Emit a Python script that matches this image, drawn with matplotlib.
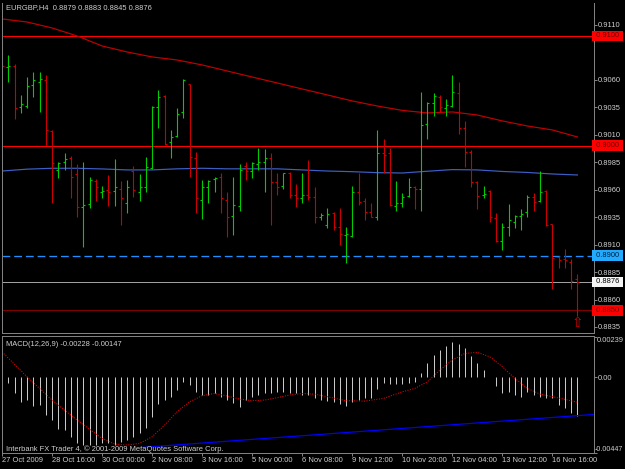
import numpy as np
import matplotlib.pyplot as plt
from matplotlib.transforms import blended_transform_factory

W, H = 625, 469

# EURGBP H4 bars
opens = [0.9096, 0.9072, 0.9073, 0.9035, 0.9036, 0.9055, 0.9058, 0.9060, 0.9013, 0.8978,
         0.8985, 0.8989, 0.8974, 0.8944, 0.8947, 0.8968, 0.8958, 0.8960, 0.8959, 0.8961,
         0.8948, 0.8977, 0.8958, 0.8962, 0.8980, 0.9035, 0.9045, 0.9003, 0.9009, 0.9031,
         0.9056, 0.8989, 0.8951, 0.8962, 0.8970, 0.8972, 0.8951, 0.8936, 0.8945, 0.8982,
         0.8977, 0.8983, 0.8985, 0.8989, 0.8967, 0.8963, 0.8975, 0.8955, 0.8952, 0.8955,
         0.8953, 0.8935, 0.8928, 0.8939, 0.8926, 0.8919, 0.8918, 0.8958, 0.8950, 0.8940,
         0.8935, 0.8993, 0.8993, 0.8945, 0.8948, 0.8954, 0.8962, 0.8961, 0.9020, 0.9039,
         0.9044, 0.9034, 0.9036, 0.9048, 0.9016, 0.8994, 0.8967, 0.8955, 0.8959, 0.8934,
         0.8913, 0.8926, 0.8931, 0.8936, 0.8940, 0.8953, 0.8950, 0.8959, 0.8929, 0.8899,
         0.8897, 0.8894, 0.8879]
highs = [0.9103, 0.9083, 0.9074, 0.9046, 0.9063, 0.9067, 0.9067, 0.9064, 0.9014, 0.8985,
         0.8993, 0.8991, 0.8983, 0.8985, 0.8972, 0.8970, 0.8963, 0.8973, 0.8988, 0.8968,
         0.8969, 0.8982, 0.8974, 0.8990, 0.9036, 0.9051, 0.9046, 0.9014, 0.9034, 0.9061,
         0.9056, 0.8994, 0.8969, 0.8969, 0.8972, 0.8975, 0.8958, 0.8972, 0.8983, 0.8985,
         0.8985, 0.8998, 0.8997, 0.8993, 0.8975, 0.8975, 0.8976, 0.8965, 0.8975, 0.8987,
         0.8962, 0.8939, 0.8943, 0.8940, 0.8943, 0.8926, 0.8963, 0.8975, 0.8952, 0.8948,
         0.9014, 0.9006, 0.8998, 0.8968, 0.8957, 0.8971, 0.8963, 0.9049, 0.9040, 0.9048,
         0.9046, 0.9043, 0.9064, 0.9058, 0.9023, 0.8996, 0.8968, 0.8963, 0.8960, 0.8939,
         0.8930, 0.8947, 0.8937, 0.8942, 0.8955, 0.8957, 0.8977, 0.8960, 0.8929, 0.8900,
         0.8906, 0.8897, 0.8883]
lows = [0.9051, 0.9058, 0.9024, 0.9030, 0.9034, 0.9044, 0.9031, 0.9001, 0.8948, 0.8971,
        0.8978, 0.8952, 0.8935, 0.8908, 0.8943, 0.8950, 0.8952, 0.8945, 0.8945, 0.8928,
        0.8939, 0.8953, 0.8950, 0.8958, 0.8979, 0.9016, 0.9001, 0.8989, 0.9008, 0.9025,
        0.8972, 0.8939, 0.8933, 0.8948, 0.8958, 0.8939, 0.8917, 0.8919, 0.8941, 0.8969,
        0.8971, 0.8978, 0.8958, 0.8928, 0.8955, 0.8961, 0.8952, 0.8944, 0.8948, 0.8951,
        0.8930, 0.8932, 0.8925, 0.8923, 0.8910, 0.8893, 0.8917, 0.8946, 0.8932, 0.8935,
        0.8932, 0.8975, 0.8945, 0.8941, 0.8944, 0.8953, 0.8942, 0.8941, 0.9006, 0.9027,
        0.9031, 0.9027, 0.9035, 0.9011, 0.8981, 0.8962, 0.8942, 0.8952, 0.8931, 0.8912,
        0.8905, 0.8918, 0.8925, 0.8923, 0.8935, 0.8941, 0.8949, 0.8927, 0.8870, 0.8889,
        0.8889, 0.8870, 0.8845]
closes = [0.9073, 0.9073, 0.9034, 0.9038, 0.9054, 0.9060, 0.9061, 0.9014, 0.8984, 0.8984,
          0.8988, 0.8972, 0.8944, 0.8946, 0.8969, 0.8962, 0.8959, 0.8958, 0.8962, 0.8952,
          0.8962, 0.8960, 0.8962, 0.8981, 0.9035, 0.9044, 0.9002, 0.9008, 0.9029, 0.9060,
          0.8990, 0.8952, 0.8962, 0.8968, 0.8971, 0.8952, 0.8935, 0.8946, 0.8978, 0.8977,
          0.8984, 0.8985, 0.8989, 0.8967, 0.8962, 0.8975, 0.8955, 0.8952, 0.8955, 0.8953,
          0.8935, 0.8937, 0.8938, 0.8926, 0.8920, 0.8920, 0.8958, 0.8949, 0.8940, 0.8935,
          0.8993, 0.8992, 0.8946, 0.8948, 0.8953, 0.8962, 0.8961, 0.9019, 0.9039, 0.9045,
          0.9035, 0.9037, 0.9049, 0.9016, 0.8994, 0.8967, 0.8954, 0.8956, 0.8935, 0.8913,
          0.8926, 0.8932, 0.8936, 0.8938, 0.8953, 0.8949, 0.8958, 0.8928, 0.8898, 0.8896,
          0.8896, 0.8877, 0.8876]

# moving averages, read every 4th bar
ma_idx = list(range(0, 93, 4))
ma_red = [0.91155, 0.91127, 0.91073, 0.91000, 0.90909, 0.90854, 0.90809, 0.90781,
          0.90736, 0.90681, 0.90626, 0.90572, 0.90517, 0.90463, 0.90408, 0.90362,
          0.90322, 0.90299, 0.90308, 0.90280, 0.90226, 0.90180, 0.90144, 0.90080]
ma_blue = [0.89770, 0.89787, 0.89795, 0.89795, 0.89789, 0.89780, 0.89780, 0.89790,
           0.89795, 0.89790, 0.89790, 0.89790, 0.89780, 0.89770, 0.89764, 0.89755,
           0.89752, 0.89768, 0.89783, 0.89780, 0.89766, 0.89757, 0.89743, 0.89734]

price_ticks = [0.9110, 0.9060, 0.9035, 0.9010, 0.8985, 0.8960, 0.8935, 0.8910, 0.8885, 0.8860, 0.8835]

# MACD(12,26,9)
macd = [-0.00005, -0.00032, -0.00095, -0.00144, -0.00134, -0.00170, -0.00164, -0.00223, -0.00252, -0.00308,
        -0.00311, -0.00351, -0.00390, -0.00400, -0.00400, -0.00400, -0.00390, -0.00390, -0.00400, -0.00380,
        -0.00371, -0.00351, -0.00331, -0.00302, -0.00233, -0.00158, -0.00134, -0.00114, -0.00075, -0.00026,
        -0.00045, -0.00085, -0.00104, -0.00104, -0.00095, -0.00114, -0.00134, -0.00154, -0.00173, -0.00134,
        -0.00114, -0.00104, -0.00095, -0.00095, -0.00085, -0.00085, -0.00091, -0.00095, -0.00104, -0.00104,
        -0.00124, -0.00134, -0.00138, -0.00144, -0.00158, -0.00170, -0.00144, -0.00134, -0.00124, -0.00124,
        -0.00071, -0.00035, -0.00039, -0.00039, -0.00039, -0.00032, -0.00026, 0.00028, 0.00083, 0.00132,
        0.00162, 0.00185, 0.00207, 0.00197, 0.00171, 0.00126, 0.00083, 0.00043, 0.00004, -0.00051,
        -0.00091, -0.00085, -0.00104, -0.00114, -0.00085, -0.00104, -0.00114, -0.00124, -0.00124, -0.00164,
        -0.00183, -0.00213, -0.00228]
sig_idx = [0, 4, 8, 12, 16, 18, 20, 22, 24, 26, 28, 30, 32, 34, 36, 38, 40, 42, 44, 46, 48, 50,
           52, 55, 58, 61, 64, 66, 68, 70, 72, 74, 76, 78, 80, 82, 84, 86, 88, 90, 92]
signal = [0.00151, 0.00004, -0.00134, -0.00252, -0.00361, -0.00394, -0.00400, -0.00390, -0.00351,
          -0.00282, -0.00203, -0.00144, -0.00108, -0.00095, -0.00110, -0.00128, -0.00138, -0.00134,
          -0.00120, -0.00104, -0.00095, -0.00099, -0.00114, -0.00138, -0.00140, -0.00124, -0.00085,
          -0.00065, -0.00026, 0.00043, 0.00103, 0.00142, 0.00148, 0.00122, 0.00063, -0.00006,
          -0.00065, -0.00099, -0.00114, -0.00130, -0.00147]
trend_x = [22.4, 94.6]
trend_y = [-0.00414, -0.00219]

date_idx = list(range(0, 89, 8))
date_labels = ['27 Oct 2009', '28 Oct 16:00', '30 Oct 00:00', '2 Nov 08:00', '3 Nov 16:00',
               '5 Nov 00:00', '6 Nov 08:00', '9 Nov 12:00', '10 Nov 20:00', '12 Nov 04:00',
               '13 Nov 12:00', '16 Nov 16:00']

plt.rcParams['font.family'] = ['Liberation Sans', 'DejaVu Sans']
FS = 5.4
TXT = '#d0d0d0'
GRID = '#808080'
PX = 72 / 100  # points per pixel

fig = plt.figure(figsize=(W / 100, H / 100), dpi=100, facecolor='black')


def box(x0, y0, x1, y1):
    return [x0 / W, 1 - y1 / H, (x1 - x0) / W, (y1 - y0) / H]


ax = fig.add_axes(box(2, 3, 594, 333), facecolor='black')
ax2 = fig.add_axes(box(2, 336, 594, 453), facecolor='black', sharex=ax)

xmax = (594 - 2) / 6.255
ax.set_xlim(0, xmax)
ax.set_ylim(0.88295, 0.91300)

# horizontal lines
ax.axhline(0.9100, color='#ff0000', lw=PX)
ax.axhline(0.9000, color='#ff0000', lw=PX)
ax.axhline(0.8900, color='#1e90ff', lw=1.3 * PX, dashes=(6, 3))
ax.axhline(0.8876, color='#a0a0a0', lw=PX)
ax.axhline(0.8850, color='#ff0000', lw=PX, dashes=(1, 1))

# moving averages
ax.plot(ma_idx, ma_red, color='#c00000', lw=1.2 * PX)
ax.plot(ma_idx, ma_blue, color='#3d5fc4', lw=1.2 * PX)

# OHLC bars
x = np.arange(len(opens))
o = np.array(opens); c = np.array(closes)
cols = np.where(c >= o, '#00cc00', '#cc0000')
tick = 0.32
ax.vlines(x, lows, highs, colors=cols, lw=1.1 * PX)
ax.hlines(o, x - tick, x, colors=cols, lw=1.1 * PX)
ax.hlines(c, x, x + tick, colors=cols, lw=1.1 * PX)
ax.text(x[-1], lows[-1] - 0.00002, '\u21e7', ha='center', va='top', color='#cc0000',
        fontsize=10, family='DejaVu Sans')

for a in (ax, ax2):
    for s in a.spines.values():
        s.set_color(GRID)
        s.set_linewidth(PX)
ax.spines['top'].set_visible(False)

ax.yaxis.tick_right()
ax.set_yticks(price_ticks)
ax.set_yticklabels([f'{v:.4f}' for v in price_ticks])
ax.tick_params(axis='y', colors=GRID, labelcolor=TXT, labelsize=FS, length=3 * PX, width=PX, pad=PX)
ax.tick_params(axis='x', bottom=False, labelbottom=False)

# price labels of the horizontal lines
tr = blended_transform_factory(ax.transAxes, ax.transData)
for lvl, fc, tc in [(0.9100, '#ff0000', '#700000'), (0.9000, '#ff0000', '#700000'),
                    (0.8900, '#22aaff', '#002040'), (0.8876, '#f4f4f4', '#000000'),
                    (0.8850, '#ff0000', '#700000')]:
    ax.text(1.0, lvl, f' {lvl:.4f} ', transform=tr, ha='left', va='center', fontsize=FS,
            color=tc, clip_on=False,
            bbox=dict(boxstyle='square,pad=0.25', fc=fc, ec='none'))

ax.text(4 / 592, 1 - 5 / 330, 'EURGBP,H4  0.8879 0.8883 0.8845 0.8876', transform=ax.transAxes,
        ha='left', va='center', fontsize=FS, color=TXT)

# MACD panel
ax2.set_ylim(-0.00447, 0.002449)
ax2.vlines(x, 0, macd, colors='#c8c8c8', lw=PX)
ax2.plot(sig_idx, signal, color='#ff0000', lw=PX, dashes=(1, 1.5))
ax2.plot(trend_x, trend_y, color='#0000ff', lw=1.2 * PX)

ax2.yaxis.tick_right()
ax2.set_yticks([0.00239, 0.0, -0.00447])
ax2.set_yticklabels(['', '0.00', ''])
ax2.tick_params(axis='y', colors=GRID, labelcolor=TXT, labelsize=FS, length=3 * PX, width=PX, pad=PX)
tr2 = blended_transform_factory(ax2.transAxes, ax2.transData)
ax2.text(1.0 + 3 / 592, 0.00239, '0.00239', transform=tr2,
         ha='left', va='top', fontsize=FS, color=TXT, clip_on=False)
ax2.text(1.0 + 1 / 592, -0.00447, '-0.00447', transform=tr2,
         ha='left', va='bottom', fontsize=5.1, color=TXT, clip_on=False)

ax2.set_xticks(date_idx)
ax2.set_xticklabels(date_labels, ha='left')
ax2.tick_params(axis='x', colors=GRID, labelcolor=TXT, labelsize=FS, length=3 * PX, width=PX, pad=PX)

ax2.text(4 / 592, 1 - 8 / 117, 'MACD(12,26,9) -0.00228 -0.00147', transform=ax2.transAxes,
         ha='left', va='center', fontsize=FS, color=TXT)
ax2.text(4 / 592, 4 / 117, 'Interbank FX Trader 4, \u00a9 2001-2009 MetaQuotes Software Corp.',
         transform=ax2.transAxes, ha='left', va='center', fontsize=FS, color=TXT)

fig.savefig('out.png', dpi=100, facecolor='black')
